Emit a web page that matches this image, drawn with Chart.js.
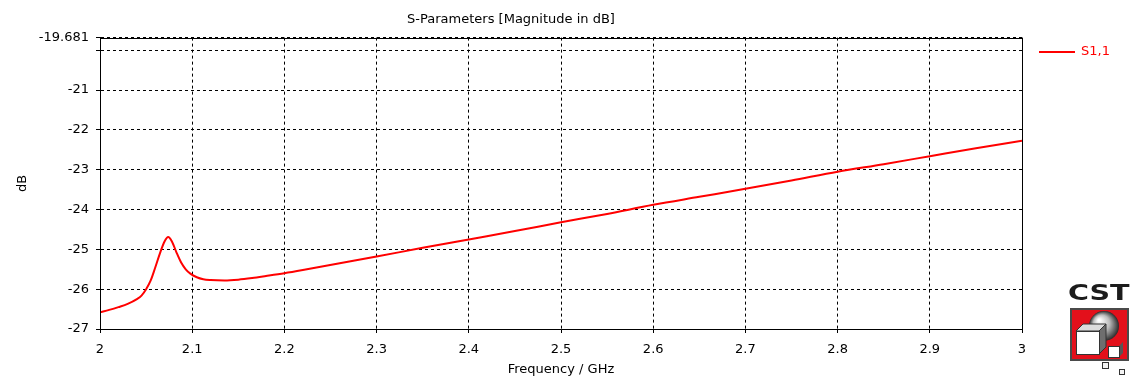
<!DOCTYPE html>
<html><head><meta charset="utf-8">
<script src="https://cdn.jsdelivr.net/npm/chart.js@4/dist/chart.umd.min.js"></script>
<style>html,body{margin:0;padding:0;background:#fff;}#wrap{width:1142px;height:381px;}</style>
</head><body><div id="wrap"><canvas id="c" width="1142" height="381"></canvas></div>
<script>
const chartTitle = 'S-Parameters [Magnitude in dB]';
const xAxisTitle = 'Frequency / GHz';
const yAxisTitle = 'dB';
const seriesLabel = 'S1,1';
const frequencyGHz = [2.000,2.010,2.020,2.030,2.040,2.045,2.050,2.055,2.060,2.065,2.070,2.074,2.078,2.083,2.088,2.093,2.098,2.105,2.112,2.120,2.135,2.150,2.165,2.180,2.200,2.220,2.260,2.300,2.350,2.400,2.450,2.500,2.550,2.600,2.650,2.700,2.750,2.800,2.850,2.900,2.950,3.000];
const s11dB = [-26.58,-26.52,-26.45,-26.37,-26.25,-26.16,-26.00,-25.78,-25.45,-25.10,-24.80,-24.69,-24.80,-25.08,-25.33,-25.50,-25.61,-25.70,-25.75,-25.77,-25.78,-25.76,-25.72,-25.67,-25.60,-25.52,-25.35,-25.18,-24.96,-24.75,-24.54,-24.32,-24.11,-23.88,-23.68,-23.48,-23.27,-23.05,-22.86,-22.66,-22.46,-22.27];
const xTicks = [2,2.1,2.2,2.3,2.4,2.5,2.6,2.7,2.8,2.9,3];
const xTickLabels = ['2','2.1','2.2','2.3','2.4','2.5','2.6','2.7','2.8','2.9','3'];
const yTicks = [-27,-26,-25,-24,-23,-22,-21,-20,-19.681];
const yTickLabels = ['-27','-26','-25','-24','-23','-22','-21','','-19.681'];

const FONT = '"DejaVu Sans", sans-serif';

const framePlugin = {
  id: 'frame',
  afterDatasetsDraw(chart) {
    const {ctx, chartArea: a} = chart;
    ctx.save();
    ctx.setLineDash([]);
    ctx.strokeStyle = '#000'; ctx.lineWidth = 1;
    const l = Math.round(a.left) + 0.5, t = Math.round(a.top) + 0.5, r = Math.round(a.right) + 0.5, b = Math.round(a.bottom) + 0.5;
    ctx.beginPath();
    ctx.moveTo(l, t); ctx.lineTo(r, t); ctx.lineTo(r, b); ctx.lineTo(l, b); ctx.closePath();
    ctx.stroke();
    ctx.restore();
  }
};

const legendPlugin = {
  id: 'sideLegend',
  afterDraw(chart) {
    const {ctx, chartArea: a} = chart;
    const ds = chart.data.datasets[0];
    const y = Math.round(a.top) + 14;
    ctx.save();
    ctx.strokeStyle = ds.borderColor; ctx.lineWidth = 2;
    ctx.beginPath(); ctx.moveTo(a.right + 17, y); ctx.lineTo(a.right + 53, y); ctx.stroke();
    ctx.fillStyle = ds.borderColor;
    ctx.font = '13px ' + FONT; ctx.textBaseline = 'middle'; ctx.textAlign = 'left';
    ctx.fillText(ds.label, a.right + 59, y);
    ctx.restore();
  }
};

const logoPlugin = {
  id: 'logo',
  afterDraw(chart) {
    const ctx = chart.ctx, W = chart.width, H = chart.height;
    ctx.save();
    ctx.fillStyle = '#1c1c1c';
    ctx.font = 'bold 22px ' + FONT;
    ctx.textBaseline = 'alphabetic'; ctx.textAlign = 'left';
    ctx.save(); ctx.translate(W - 74, H - 81); ctx.scale(1.3, 1); ctx.fillText('CST', 0, 0); ctx.restore();
    const bx = W - 71, by = H - 72, bw = 57, bh = 51;
    ctx.fillStyle = '#e3101b'; ctx.fillRect(bx, by, bw, bh);
    ctx.strokeStyle = '#4a4a4a'; ctx.lineWidth = 2; ctx.strokeRect(bx, by, bw, bh);
    const cx = bx + 33, cy = by + 17, rr = 15;
    const g = ctx.createRadialGradient(cx - 5, cy - 6, 1, cx, cy, rr);
    g.addColorStop(0, '#ffffff'); g.addColorStop(0.5, '#bdbdbd'); g.addColorStop(1, '#2a2a2a');
    ctx.fillStyle = g; ctx.beginPath(); ctx.arc(cx, cy, rr, 0, Math.PI * 2); ctx.fill();
    const fx = bx + 5, fy = by + 22, fs = 23, d = 7;
    ctx.lineWidth = 1; ctx.strokeStyle = '#333';
    ctx.fillStyle = '#dcdcdc';
    ctx.beginPath(); ctx.moveTo(fx, fy); ctx.lineTo(fx + d, fy - d); ctx.lineTo(fx + fs + d, fy - d); ctx.lineTo(fx + fs, fy); ctx.closePath(); ctx.fill(); ctx.stroke();
    ctx.fillStyle = '#6e6e6e';
    ctx.beginPath(); ctx.moveTo(fx + fs, fy); ctx.lineTo(fx + fs + d, fy - d); ctx.lineTo(fx + fs + d, fy + fs - d); ctx.lineTo(fx + fs, fy + fs); ctx.closePath(); ctx.fill(); ctx.stroke();
    ctx.fillStyle = '#fff'; ctx.fillRect(fx, fy, fs, fs); ctx.strokeRect(fx + 0.5, fy + 0.5, fs, fs);
    const sx = bx + 37, sy = by + 37, ss = 11;
    ctx.fillStyle = '#555'; ctx.beginPath(); ctx.moveTo(sx + ss, sy); ctx.lineTo(sx + ss + 4, sy - 4); ctx.lineTo(sx + ss + 4, sy + ss - 4); ctx.lineTo(sx + ss, sy + ss); ctx.closePath(); ctx.fill();
    ctx.fillStyle = '#fff'; ctx.fillRect(sx, sy, ss, ss); ctx.strokeRect(sx + 0.5, sy + 0.5, ss, ss);
    ctx.fillStyle = '#f4f4f4';
    ctx.fillRect(bx + 31, by + 53, 6, 6); ctx.strokeRect(bx + 31.5, by + 53.5, 6, 6);
    ctx.fillRect(bx + 48, by + 60, 5, 5); ctx.strokeRect(bx + 48.5, by + 60.5, 5, 5);
    ctx.restore();
  }
};

const gridOpts = {color: '#000', lineWidth: 1, tickBorderDash: [], tickColor: '#000', tickLength: 4};
const borderOpts = {display: true, color: '#000', width: 1, dash: [3, 3]};

new Chart(document.getElementById('c'), {
  type: 'line',
  data: {
    datasets: [{
      label: seriesLabel,
      data: frequencyGHz.map((f, i) => ({x: f, y: s11dB[i]})),
      borderColor: '#ff0000',
      borderWidth: 2,
      pointRadius: 0,
      cubicInterpolationMode: 'monotone',
      fill: false
    }]
  },
  options: {
    responsive: false,
    devicePixelRatio: 1,
    animation: false,
    layout: {padding: {left: 0, right: 120, top: 0, bottom: 0}},
    plugins: {
      legend: {display: false},
      tooltip: {enabled: false},
      title: {display: true, text: chartTitle, color: '#000', font: {family: FONT, size: 13, weight: 'normal'}, padding: {top: 12, bottom: 10}}
    },
    scales: {
      x: {
        type: 'linear', min: 2, max: 3,
        afterBuildTicks: s => { s.ticks = xTicks.map(v => ({value: v})); },
        afterFit: s => { s.height = 52; },
        ticks: {color: '#000', font: {family: FONT, size: 13}, padding: 9, maxRotation: 0, autoSkip: false,
          callback: (v, i) => xTickLabels[i]},
        grid: gridOpts,
        border: borderOpts,
        title: {display: true, text: xAxisTitle, color: '#000', font: {family: FONT, size: 13}, padding: {top: 0, bottom: 4}}
      },
      y: {
        type: 'linear', min: -27, max: -19.681,
        afterBuildTicks: s => { s.ticks = yTicks.map(v => ({value: v})); },
        afterFit: s => { s.width = 100; },
        ticks: {color: '#000', font: {family: FONT, size: 13}, padding: 7, autoSkip: false,
          callback: (v, i) => yTickLabels[i]},
        grid: gridOpts,
        border: borderOpts,
        title: {display: true, text: yAxisTitle, color: '#000', font: {family: FONT, size: 13}, padding: {top: 15, bottom: 0}}
      }
    }
  },
  plugins: [framePlugin, legendPlugin, logoPlugin]
});
</script>
</body></html>
